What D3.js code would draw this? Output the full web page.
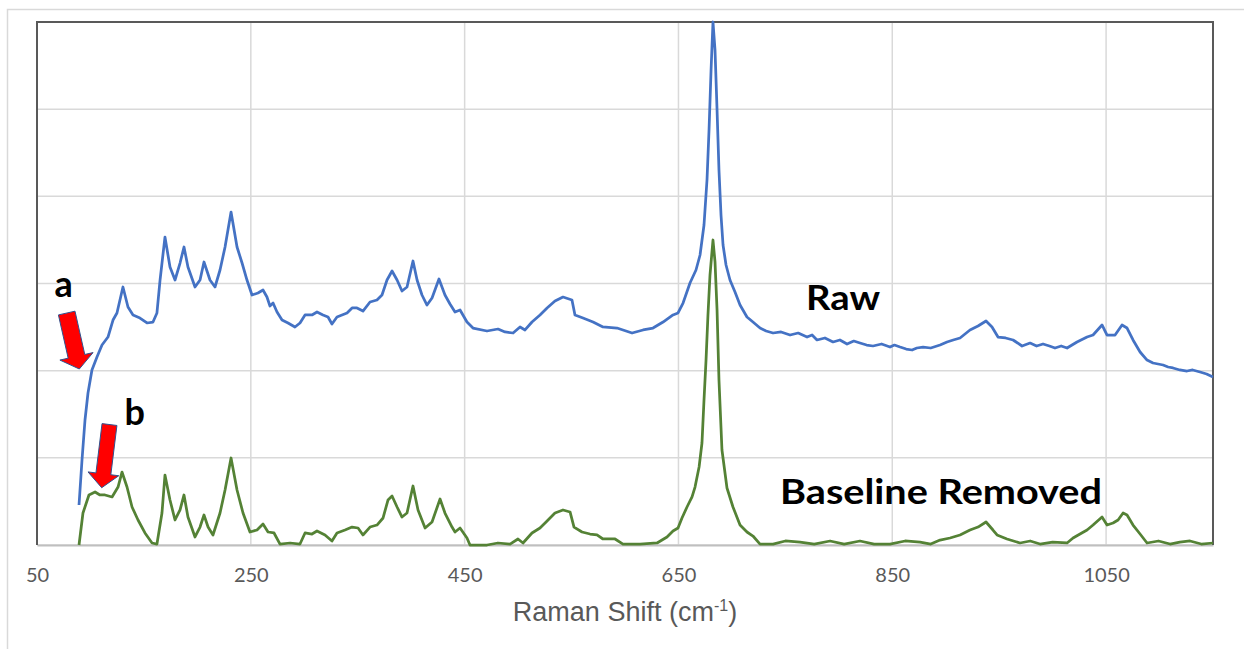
<!DOCTYPE html>
<html>
<head>
<meta charset="utf-8">
<script src="https://cdn.jsdelivr.net/npm/d3@7"></script>
<style>
  body { margin: 0; background: #fff; }
  svg { display: block; }
</style>
</head>
<body>
<svg class="chart"></svg>
<script>
// Raman shift (cm-1) and intensity (a.u.)
const rawShift = [89.3, 92.1, 94.9, 97.7, 101.4, 106.1, 110.8, 116.4, 121.1, 124.8,
  130.4, 135.1, 139.8, 146.3, 152.9, 158.5, 162.2, 165.1, 169.7, 174.4,
  179.1, 183.8, 187.5, 191.2, 197.8, 202.5, 206.2, 211.8, 216.5, 221.2,
  225.9, 231.5, 237.1, 241.8, 246.4, 251.1, 256.7, 261.4, 265.1, 267.9,
  270.8, 274.5, 279.2, 284.8, 291.3, 296.0, 300.7, 307.2, 311.9, 317.5,
  322.2, 325.9, 330.6, 340.0, 344.7, 349.3, 354.9, 361.5, 368.0, 372.7,
  377.4, 382.1, 386.8, 391.4, 396.1, 401.7, 405.5, 410.1, 414.8, 419.5,
  426.0, 431.6, 436.3, 441.0, 445.7, 452.2, 457.8, 470.9, 481.2, 487.8,
  495.3, 501.8, 506.5, 513.0, 520.5, 527.1, 534.5, 542.0, 550.4, 553.2,
  560.7, 570.1, 579.4, 592.5, 606.6, 616.9, 626.2, 635.6, 644.9, 649.6,
  654.3, 660.8, 666.4, 670.2, 673.9, 676.7, 678.6, 680.5, 682.3, 684.2,
  686.1, 687.9, 689.8, 691.7, 694.5, 698.2, 702.9, 707.6, 714.1, 719.7,
  726.3, 732.0, 738.5, 746.0, 754.4, 762.0, 770.3, 775.0, 779.6, 787.0,
  794.6, 801.0, 807.7, 814.0, 819.8, 826.0, 832.0, 840.0, 847.9, 852.0,
  857.3, 863.0, 868.5, 873.0, 878.8, 886.0, 894.7, 901.2, 907.0, 913.4,
  922.7, 930.2, 937.7, 943.3, 948.9, 956.0, 963.0, 971.4, 978.9, 985.0,
  991.0, 997.0, 1002.2, 1008.0, 1013.5, 1022.8, 1032.2, 1037.8,
  1046.2, 1050.9, 1058.4, 1064.9, 1069.6, 1075.2, 1081.8, 1088.3, 1093.9, 1103.3,
  1108.0, 1112.6, 1119.0, 1125.7, 1131.0, 1137.9, 1144.0, 1150.0];

const rawIntensity = [459, 975, 1434, 1744, 2008, 2157, 2294, 2386, 2581, 2662,
  2960, 2730, 2639, 2604, 2547, 2558, 2662, 3040, 3533, 3189,
  3040, 3235, 3419, 3189, 2960, 3040, 3247, 3040, 2960, 3155,
  3419, 3820, 3419, 3235, 3040, 2868, 2891, 2925, 2845, 2742,
  2776, 2673, 2581, 2547, 2501, 2547, 2639, 2639, 2673, 2639,
  2616, 2535, 2616, 2662, 2719, 2719, 2684, 2788, 2811, 2868,
  3040, 3143, 3040, 2914, 2960, 3258, 3040, 2868, 2753, 2834,
  3052, 2868, 2765, 2673, 2696, 2558, 2489, 2455, 2478, 2444,
  2432, 2501, 2467, 2558, 2639, 2719, 2799, 2845, 2811, 2639,
  2604, 2558, 2501, 2489, 2432, 2467, 2489, 2558, 2639, 2662,
  2776, 3006, 3155, 3327, 3671, 4187, 4761, 5449, 6000, 5678,
  4990, 4302, 3786, 3442, 3212, 3040, 2902, 2753, 2616, 2558,
  2489, 2455, 2432, 2444, 2409, 2432, 2386, 2409, 2352, 2375,
  2329, 2352, 2306, 2340, 2317, 2294, 2283, 2306, 2271, 2294,
  2271, 2248, 2237, 2260, 2271, 2260, 2294, 2329, 2352, 2375,
  2467, 2512, 2570, 2501, 2386, 2375, 2352, 2283, 2317, 2283,
  2306, 2283, 2260, 2283, 2260, 2329, 2386, 2409,
  2524, 2409, 2409, 2524, 2489, 2352, 2214, 2122, 2088, 2065,
  2042, 2031, 2008, 1996, 2008, 1985, 1962, 1927];

const baseShift = [89.3, 93.0, 98.6, 104.3, 108.9, 113.6, 120.2, 125.8, 129.5, 134.2,
  138.9, 144.5, 151.0, 157.6, 162.2, 166.9, 169.7, 174.4, 179.1, 183.8,
  187.5, 191.2, 197.8, 202.5, 206.2, 210.0, 214.6, 221.2, 225.9, 231.5,
  237.1, 242.7, 249.2, 255.8, 261.4, 266.1, 271.7, 277.3, 286.7, 296.0,
  300.7, 307.2, 311.9, 319.4, 325.9, 330.6, 338.1, 344.7, 350.3, 354.9,
  361.5, 368.0, 373.7, 378.3, 382.1, 386.8, 391.4, 396.1, 401.7, 406.4,
  413.0, 419.5, 427.0, 431.6, 438.2, 441.0, 445.7, 452.2, 455.0, 470.9,
  481.2, 492.5, 499.9, 504.6, 513.0, 520.5, 527.1, 534.5, 542.0, 548.6,
  552.3, 559.8, 567.3, 573.8, 579.4, 590.7, 598.1, 614.1, 630.0, 639.3,
  644.9, 649.6, 653.3, 658.0, 662.7, 665.5, 669.3, 672.0, 673.9, 675.8,
  677.6, 679.5, 682.3, 684.2, 686.1, 687.9, 690.7, 695.4, 701.0, 707.6,
  714.1, 719.7, 726.3, 738.5, 750.0, 763.7, 777.0, 791.8, 805.0, 819.8,
  833.0, 847.9, 862.0, 876.0, 886.0, 894.7,
  904.0, 913.4, 922.7, 930.2, 937.7, 944.2, 948.0, 957.3, 969.5, 979.0, 988.2,
  1000.0, 1013.5, 1019.1, 1025.6, 1032.2, 1037.8, 1046.2, 1050.9, 1056.5, 1061.2, 1065.9,
  1069.6, 1075.2, 1081.8, 1088.3, 1099.0, 1109.8, 1119.0, 1128.5, 1139.0, 1150.0];

const baseIntensity = [0, 367, 574, 608, 574, 574, 551, 665, 837, 665,
  436, 287, 138, 23, 11, 367, 803, 516, 287, 402,
  574, 321, 92, 206, 344, 206, 115, 367, 631, 998,
  631, 367, 149, 172, 241, 149, 138, 11, 23, 11,
  138, 126, 161, 115, 46, 138, 172, 206, 195, 115,
  206, 229, 310, 516, 562, 436, 321, 367, 677, 402,
  195, 264, 528, 367, 206, 149, 195, 80, 0, 0,
  23, 11, 69, 23, 138, 195, 275, 367, 402, 379,
  206, 149, 126, 115, 69, 69, 11, 11, 23, 92,
  161, 195, 310, 436, 551, 665, 895, 1170, 1663, 2122,
  2639, 3097, 3499, 3247, 2696, 1893, 1090, 654, 436, 229,
  149, 103, 11, 11, 46, 34, 11, 46, 11, 46,
  11, 11, 46, 34, 11, 57,
  80, 115, 172, 206, 264, 172, 115, 69, 23, 46, 11,
  34, 23, 80, 126, 172, 229, 321, 229, 252, 287, 367,
  344, 229, 126, 23, 46, 11, 34, 46, 11, 23];

const xTicks = [50, 250, 450, 650, 850, 1050, 1150];
const xTickLabels = ["50", "250", "450", "650", "850", "1050", ""];
const yGrid = [0, 1000, 2000, 3000, 4000, 5000, 6000];

// annotations, in data units: [shift, intensity]
const seriesLabels = [
  {text: "Raw", at: [769.3, 2696], width: 74},
  {text: "Baseline Removed", at: [745.0, 470], width: 322}
];
const arrowLabels = [
  {text: "a", at: [66.3, 2845]},
  {text: "b", at: [131.8, 1377]}
];
const arrows = [
  {tail: [77.8, 2661], tip: [89.6, 2019], shaft: 17, head: 34, headLen: 13},
  {tail: [117.8, 1382], tip: [110.5, 657], shaft: 15, head: 31, headLen: 14}
];

const W = 1244, H = 649;
const margin = {top: 22, right: 31, bottom: 104, left: 37};

const svg = d3.select(".chart")
  .attr("width", W)
  .attr("height", H);

// outer chart frame
svg.append("rect")
  .attr("x", 7.5).attr("y", 9.5)
  .attr("width", W).attr("height", H)
  .attr("fill", "none")
  .attr("stroke", "#d9d9d9")
  .attr("stroke-width", 1.5);

const x = d3.scaleLinear()
  .domain([50, 1150])
  .range([margin.left, W - margin.right]);

const y = d3.scaleLinear()
  .domain([0, 6000])
  .range([H - margin.bottom, margin.top]);

// gridlines
svg.append("g")
  .selectAll("line")
  .data(yGrid)
  .join("line")
  .attr("x1", x(50)).attr("x2", x(1150))
  .attr("y1", d => y(d)).attr("y2", d => y(d))
  .attr("stroke", "#d9d9d9")
  .attr("stroke-width", 1.5);

svg.append("g")
  .selectAll("line")
  .data(xTicks.slice(1, -1))
  .join("line")
  .attr("x1", d => x(d)).attr("x2", d => x(d))
  .attr("y1", y(0)).attr("y2", y(6000))
  .attr("stroke", "#d9d9d9")
  .attr("stroke-width", 1.5);

// x axis
const xAxis = svg.append("g")
  .attr("transform", `translate(0,${y(0)})`)
  .call(d3.axisBottom(x)
    .tickValues(xTicks)
    .tickFormat((d, i) => xTickLabels[i])
    .tickSize(0)
    .tickPadding(23));

xAxis.select(".domain")
  .attr("stroke", "#bfbfbf")
  .attr("stroke-width", 2);

xAxis.selectAll("text")
  .attr("fill", "#595959")
  .style("font-family", "Lato, 'Open Sans', sans-serif")
  .style("font-size", "20px");

// plot border (top, left, right)
svg.append("path")
  .attr("d", `M${x(50)},${y(0)}V${y(6000)}H${x(1150)}V${y(0)}`)
  .attr("fill", "none")
  .attr("stroke", "#595959")
  .attr("stroke-width", 2);

// axis title
const title = svg.append("text")
  .attr("x", (x(50) + x(1150)) / 2)
  .attr("y", 621)
  .attr("text-anchor", "middle")
  .attr("fill", "#595959")
  .style("font-family", "'Liberation Sans', Arial, sans-serif")
  .style("font-size", "27px");
title.append("tspan").text("Raman Shift (cm");
title.append("tspan").attr("dy", -10).style("font-size", "16px").text("-1");
title.append("tspan").attr("dy", 10).text(")");

// spectra
const line = d3.line()
  .x(d => x(d[0]))
  .y(d => y(d[1]));

svg.append("path")
  .datum(d3.zip(rawShift, rawIntensity))
  .attr("fill", "none")
  .attr("stroke", "#4472c4")
  .attr("stroke-width", 2.75)
  .attr("stroke-linejoin", "round")
  .attr("d", line);

svg.append("path")
  .datum(d3.zip(baseShift, baseIntensity))
  .attr("fill", "none")
  .attr("stroke", "#548235")
  .attr("stroke-width", 2.75)
  .attr("stroke-linejoin", "round")
  .attr("d", line);

// block arrows
function arrowPath(a) {
  const tx = x(a.tail[0]), ty = y(a.tail[1]);
  const px = x(a.tip[0]), py = y(a.tip[1]);
  const len = Math.hypot(px - tx, py - ty);
  const ux = (px - tx) / len, uy = (py - ty) / len;
  const nx = -uy, ny = ux;
  const neckX = px - ux * a.headLen, neckY = py - uy * a.headLen;
  const s = a.shaft / 2, h = a.head / 2;
  const pts = [
    [tx + nx * s, ty + ny * s],
    [neckX + nx * s, neckY + ny * s],
    [neckX + nx * h, neckY + ny * h],
    [px, py],
    [neckX - nx * h, neckY - ny * h],
    [neckX - nx * s, neckY - ny * s],
    [tx - nx * s, ty - ny * s]
  ];
  return "M" + pts.map(p => p.join(",")).join("L") + "Z";
}

svg.append("g")
  .selectAll("path")
  .data(arrows)
  .join("path")
  .attr("d", arrowPath)
  .attr("fill", "#ff0000")
  .attr("stroke", "#2f528f")
  .attr("stroke-width", 1);

svg.append("g")
  .selectAll("text")
  .data(arrowLabels)
  .join("text")
  .attr("x", d => x(d.at[0]))
  .attr("y", d => y(d.at[1]))
  .attr("fill", "#000")
  .style("font-family", "Lato, 'Open Sans', sans-serif")
  .style("font-weight", 700)
  .style("font-size", "36px")
  .text(d => d.text);

svg.append("g")
  .selectAll("text")
  .data(seriesLabels)
  .join("text")
  .attr("x", d => x(d.at[0]))
  .attr("y", d => y(d.at[1]))
  .attr("textLength", d => d.width)
  .attr("lengthAdjust", "spacingAndGlyphs")
  .attr("fill", "#000")
  .style("font-family", "Lato, 'Open Sans', sans-serif")
  .style("font-weight", 700)
  .style("font-size", "35px")
  .text(d => d.text);
</script>
</body>
</html>
